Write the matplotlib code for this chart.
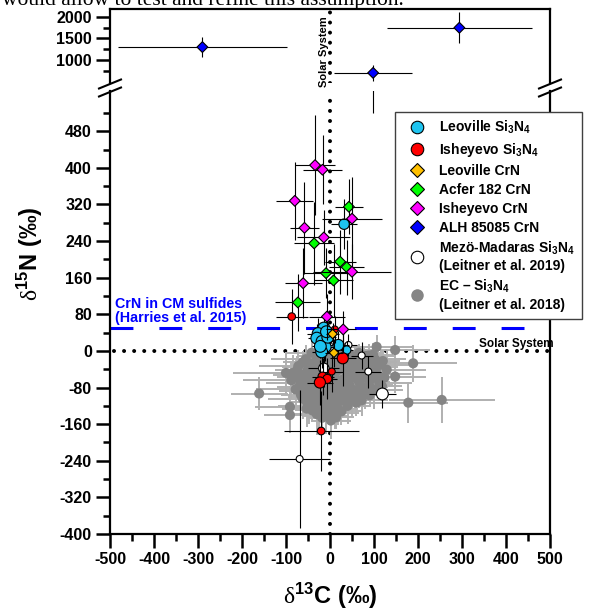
import matplotlib
matplotlib.use('Agg')
import matplotlib.pyplot as plt
from matplotlib.lines import Line2D

plt.rcParams['font.family'] = ['Liberation Sans', 'DejaVu Sans']
plt.rcParams['font.weight'] = 'bold'
plt.rcParams['axes.unicode_minus'] = False
plt.rcParams['mathtext.fontset'] = 'custom'
plt.rcParams['mathtext.rm'] = 'Liberation Sans:bold'
plt.rcParams['mathtext.bf'] = 'Liberation Sans:bold'
plt.rcParams['mathtext.it'] = 'Liberation Sans:bold'
plt.rcParams['mathtext.sf'] = 'Liberation Serif:regular'

# ---------------- data ----------------
# Leoville Si3N4
leo_si_x = [-14, -27, -30, -18, -11, -19, -5, -22, 19, 38, 32, -8]
leo_si_y = [50, 38, 28, 21, 9, -2, 30, 10, 13, 2, 277, 42]
leo_si_xe = [20, 25, 20, 25, 20, 22, 18, 20, 25, 15, 30, 20]
leo_si_ye = [30, 35, 30, 40, 30, 35, 30, 25, 30, 20, 55, 30]
leo_si_ms = [8.5, 8.5, 8.5, 8.5, 8.5, 8.5, 8.5, 8.5, 8, 6, 7.5, 8.5]

# Isheyevo Si3N4
ish_si_x = [29, 4, -17, -6, -23, -87, -20, 11]
ish_si_y = [-16, -45, -56, -61, -69, 75, -175, 47]
ish_si_xe = [30, 25, 25, 22, 30, 36, 85, 20]
ish_si_ye = [60, 45, 40, 45, 50, 60, 87, 30]
ish_si_ms = [8, 5, 6.5, 6.5, 8, 5.5, 5.5, 5]

# Leoville CrN
leo_crn_x = [6, 9]
leo_crn_y = [37, -4]
leo_crn_xe = [15, 20]
leo_crn_ye = [25, 30]

# Acfer 182 CrN
acf_x = [43, -36, 23, 38, -9, 8, -73]
acf_y = [315, 235, 195, 183, 170, 154, 106]
acf_xe = [32, 45, 35, 40, 53, 45, 51]
acf_ye = [60, 90, 70, 60, 55, 80, 62]

# Isheyevo CrN
ish_crn_x = [-34, -17, -80, -58, -14, 50, 50, -61, -7, 30]
ish_crn_y = [406, 396, 328, 269, 248, 289, 173, 148, 75, 47]
ish_crn_xe = [45, 45, 42, 32, 60, 68, 89, 42, 40, 30]
ish_crn_ye = [110, 75, 85, 100, 60, 90, 60, 76, 50, 40]

# ALH 85085 CrN
alh_x = [-290, 98, 294]
alh_y = [1300, 700, 1750]
alh_xe = [192, 89, 165]
alh_ye = [240, 180, 360]

# Mezo-Madaras Si3N4 (Leitner et al. 2019)
mm_x = [-14, 72, 87, 119, 42, -69]
mm_y = [-38, -10, -45, -94, 13, -236]
mm_xe = [35, 25, 30, 30, 20, 70]
mm_ye = [40, 30, 35, 30, 25, 150]
mm_ms = [7.5, 5, 5, 8.5, 5, 5]

# EC - Si3N4 (Leitner et al. 2018)
ec_x = [-42, -18, 22, 45, 66, 88, -55, -30, -6, 15, 35, 58, 78, 102,
        -72, -48, -25, 2, 28, 50, 72, 95, 115, -84, -60, -38, -14, 12,
        38, 60, 82, 105, 124, -88, -66, -44, -22, 0, 20, 44, 66, 88, 112,
        -78, -56, -34, -10, 12, 34, 56, 80, 100, -62, -40, -18, 6, 28, 50,
        72, -48, -26, -4, 18, 40, -30, -8, 12, 2,
        -161, 178, 254, 189, 148, 148, -91, -91, -53, 106, 129, -100,
        -30, 0, 34, 56, 78, 98,
        -62, -40, -16, 6, 26, 46, 68, 88, 108, 120,
        -74, -50, -28, -4, 18, 40, 62, 84, 104,
        -76, -54, -32, -10, 10, 30, 50, 72, 94, 116,
        -70, -46, -24, 2, 24, 46, 70, 92, 118,
        -66, -44, -22, 0, 22, 44, 66, 90,
        -52, -30, -8, 16, 38, 60,
        -40, -18, 2, 26,
        -18, 14]
ec_y = [-4, -8, -3, -8, -4, -10, -18, -20, -15, -22, -18, -24, -20, -18,
        -33, -36, -30, -34, -38, -32, -40, -35, -30, -48, -52, -46, -50, -48,
        -55, -50, -56, -50, -58, -64, -70, -66, -72, -66, -70, -74, -68, -74, -70,
        -84, -88, -82, -88, -84, -90, -86, -92, -86, -104, -100, -106, -102, -108, -102,
        -108, -120, -124, -118, -126, -120, -138, -142, -136, -152,
        -93, -113, -107, -27, 2, -56, -122, -140, -126, 9, -41, -48,
        -10, -12, -9, -14, -11, -8,
        -25, -27, -24, -28, -26, -25, -29, -26, -24, -22,
        -41, -40, -43, -39, -42, -44, -40, -42, -41,
        -58, -60, -57, -61, -59, -62, -58, -60, -61, -57,
        -78, -77, -80, -76, -79, -81, -78, -80, -77,
        -96, -95, -97, -94, -98, -96, -95, -97,
        -112, -113, -111, -114, -112, -113,
        -130, -131, -129, -132,
        -146, -145]
ec_xe = [60, 45, 50, 70, 55, 60, 80, 50, 40, 65, 45, 60, 50, 70,
         90, 60, 45, 55, 40, 65, 50, 60, 75, 100, 70, 50, 60, 45,
         55, 70, 60, 80, 65, 110, 80, 55, 60, 50, 65, 45, 70, 55, 75,
         90, 60, 50, 65, 45, 60, 70, 55, 65, 80, 55, 60, 50, 65, 45,
         60, 70, 55, 60, 45, 50, 60, 50, 55, 45,
         65, 90, 120, 100, 80, 70, 80, 60, 55, 80, 90, 120,
         40, 35, 45, 40, 50, 45,
         45, 40, 35, 40, 45, 35, 40, 50, 45, 40,
         50, 40, 35, 45, 40, 35, 45, 40, 50,
         45, 40, 35, 40, 45, 40, 35, 45, 40, 50,
         50, 40, 45, 35, 40, 45, 40, 35, 45,
         45, 40, 35, 40, 45, 40, 35, 45,
         40, 35, 45, 40, 35, 40,
         40, 35, 40, 45,
         35, 40]
ec_ye = [25, 30, 20, 25, 20, 25, 30, 25, 30, 25, 35, 30, 25, 30,
         35, 30, 25, 40, 30, 35, 30, 35, 30, 40, 35, 30, 45, 35,
         40, 30, 35, 40, 35, 40, 35, 40, 45, 35, 40, 35, 40, 35, 40,
         40, 45, 35, 40, 45, 35, 40, 35, 40, 45, 40, 45, 40, 35, 40,
         35, 40, 45, 40, 35, 40, 45, 40, 35, 40,
         35, 45, 50, 40, 30, 35, 45, 40, 40, 25, 40, 45,
         20, 25, 20, 25, 20, 25,
         25, 30, 25, 20, 30, 25, 20, 25, 30, 25,
         30, 25, 30, 25, 30, 25, 30, 25, 30,
         30, 25, 30, 25, 30, 25, 30, 25, 30, 25,
         25, 30, 25, 30, 25, 30, 25, 30, 25,
         30, 25, 30, 25, 30, 25, 30, 25,
         25, 30, 25, 30, 25, 30,
         25, 30, 25, 30,
         25, 25]

x_ticks = [-500, -400, -300, -200, -100, 0, 100, 200, 300, 400, 500]
y_ticks_low = [-400, -320, -240, -160, -80, 0, 80, 160, 240, 320, 400, 480]
y_ticks_top = [1000, 1500, 2000]
harries_y = 50

labels = ['Leoville Si$_{\\mathrm{3}}$N$_{\\mathrm{4}}$',
          'Isheyevo Si$_{\\mathrm{3}}$N$_{\\mathrm{4}}$',
          'Leoville CrN', 'Acfer 182 CrN', 'Isheyevo CrN', 'ALH 85085 CrN',
          'Mezö-Madaras Si$_{\\mathrm{3}}$N$_{\\mathrm{4}}$\n(Leitner et al. 2019)',
          'EC – Si$_{\\mathrm{3}}$N$_{\\mathrm{4}}$\n(Leitner et al. 2018)']

C_CYAN = '#1EC4F0'
C_RED = '#FF0000'
C_ORANGE = '#FFC000'
C_GREEN = '#00FF00'
C_MAG = '#FF00FF'
C_BLUE = '#0000FF'
C_GREY = '#858585'

# ---------------- figure layout ----------------
W, H = 589, 613
fig = plt.figure(figsize=(W / 100, H / 100), dpi=100)


def fx(px):
    return px / W


def fy(py):
    return 1 - py / H


XL, XR = 110, 550
TOP0, TOP1 = 9, 83
LOW0, LOW1 = 91, 534
ax_top = fig.add_axes([fx(XL), fy(TOP1), (XR - XL) / W, (TOP1 - TOP0) / H])
ax = fig.add_axes([fx(XL), fy(LOW1), (XR - XL) / W, (LOW1 - LOW0) / H])

for a in (ax, ax_top):
    a.set_xlim(-500, 500)
    for s in a.spines.values():
        s.set_linewidth(1.6)
ax.set_ylim(-400, 568)
ax_top.set_ylim(465, 2186)
ax.spines['top'].set_visible(False)
ax_top.spines['bottom'].set_visible(False)

ax.set_xticks(x_ticks)
ax.set_xticks([v + 50 for v in x_ticks[:-1]], minor=True)
ax.set_yticks(y_ticks_low)
ax.set_yticks([v + 40 for v in y_ticks_low[:-1]] + [520], minor=True)
ax_top.set_yticks(y_ticks_top)
ax_top.set_yticks([750, 1250, 1750], minor=True)
ax_top.set_xticks([])

for a in (ax, ax_top):
    a.tick_params(which='major', direction='out', length=10, width=1.8,
                  labelsize=11.5, pad=3)
    a.tick_params(which='minor', direction='out', length=5, width=1.8)
    a.tick_params(right=False, top=False, which='both')
ax_top.tick_params(bottom=False, which='both')

# dotted solar-system lines
dot_kw = dict(color='black', lw=2.9, dashes=(0.001, 2.5), dash_capstyle='round', zorder=1)
ax.plot([0, 0], [-400, 568], **dot_kw)
ax_top.plot([0, 0], [465, 2186], **dot_kw)
ax.plot([-490, 500], [0, 0], **dot_kw)

# Harries et al. line
ax.plot([-500, 440], [harries_y, harries_y], color=C_BLUE, lw=2.2,
        dashes=(7.5, 8.5), zorder=1.5)


def series(a, xs, ys, xe, ye, ms, marker, fc, ec='black', ecol='black',
           elw=0.8, z=3):
    a.errorbar(xs, ys, xerr=xe, yerr=ye, fmt='none', ecolor=ecol,
               elinewidth=elw, capsize=0, zorder=z)
    if not isinstance(ms, list):
        ms = [ms] * len(xs)
    a.scatter(xs, ys, s=[m ** 2 for m in ms], marker=marker, facecolor=fc,
              edgecolor=ec, linewidth=0.8, zorder=z + 0.1)


series(ax, ec_x, ec_y, ec_xe, ec_ye, 7.3, 'o', C_GREY, ec='none',
       ecol='#B0B0B0', elw=1.4, z=2)
series(ax, mm_x, mm_y, mm_xe, mm_ye, mm_ms, 'o', 'white', z=3)
series(ax, leo_si_x, leo_si_y, leo_si_xe, leo_si_ye, leo_si_ms, 'o', C_CYAN, z=4)
series(ax, ish_si_x, ish_si_y, ish_si_xe, ish_si_ye, ish_si_ms, 'o', C_RED, z=5)
series(ax, leo_crn_x, leo_crn_y, leo_crn_xe, leo_crn_ye, 4.8, 'D', C_ORANGE, z=6)
series(ax, acf_x, acf_y, acf_xe, acf_ye, 5.5, 'D', C_GREEN, z=6)
series(ax, ish_crn_x, ish_crn_y, ish_crn_xe, ish_crn_ye, 5.5, 'D', C_MAG, z=7)
series(ax_top, alh_x, alh_y, alh_xe, alh_ye, 5.5, 'D', C_BLUE, z=6)
# ALH error bars that cross the axis break
ax.errorbar(alh_x, alh_y, xerr=None, yerr=alh_ye, fmt='none', ecolor='black',
            elinewidth=0.8, capsize=0, zorder=6)

# annotation texts
ax.text(-489, 57, 'CrN in CM sulfides\n(Harries et al. 2015)', color=C_BLUE,
        fontsize=10.3, fontweight='bold', ha='left', va='bottom', linespacing=1.0)
fig.text(fx(554), fy(344), 'Solar System', fontsize=8.5, fontweight='bold',
         ha='right', va='center')
fig.text(fx(324), fy(52), 'Solar System', fontsize=8, fontweight='bold',
         ha='center', va='center', rotation=90)

# axis break marks
for cx in (XL, XR):
    for cy in (TOP1 + 1, LOW0 + 1):
        fig.add_artist(Line2D([fx(cx - 11), fx(cx + 11)], [fy(cy + 4.5), fy(cy - 4.5)],
                              color='black', lw=1.5, transform=fig.transFigure))

# axis labels
fig.text(fx(30), fy(254), r'$\mathsf{\delta}^{\mathrm{15}}\mathrm{N\ (‰)}$',
         rotation=90, fontsize=17, ha='center', va='center')
fig.text(fx(330), fy(596), r'$\mathsf{\delta}^{\mathrm{13}}\mathrm{C\ (‰)}$',
         fontsize=17, ha='center', va='center')

# cropped text line of the source page
fig.text(fx(2), fy(5), 'would allow to test and refine this assumption.',
         fontsize=15.5, family='Liberation Serif', fontweight='normal',
         ha='left', va='baseline')

# legend
handles = [
    Line2D([], [], ls='none', marker='o', ms=9, mfc=C_CYAN, mec='black', mew=0.8),
    Line2D([], [], ls='none', marker='o', ms=9, mfc=C_RED, mec='black', mew=0.8),
    Line2D([], [], ls='none', marker='D', ms=7, mfc=C_ORANGE, mec='black', mew=0.8),
    Line2D([], [], ls='none', marker='D', ms=7, mfc=C_GREEN, mec='black', mew=0.8),
    Line2D([], [], ls='none', marker='D', ms=7, mfc=C_MAG, mec='black', mew=0.8),
    Line2D([], [], ls='none', marker='D', ms=7, mfc=C_BLUE, mec='black', mew=0.8),
    Line2D([], [], ls='none', marker='o', ms=9, mfc='white', mec='black', mew=0.8),
    Line2D([], [], ls='none', marker='o', ms=9, mfc=C_GREY, mec='none'),
]
leg = ax.legend(handles, labels, loc='upper left',
                bbox_to_anchor=(fx(395), fy(112)), bbox_transform=fig.transFigure,
                borderaxespad=0, frameon=True, fancybox=False, framealpha=1,
                edgecolor='#404040', fontsize=10, borderpad=0.5,
                handlelength=2.2, handletextpad=0.5, labelspacing=0.35)
leg.get_frame().set_linewidth(1.0)

fig.savefig('out.png', dpi=100)
